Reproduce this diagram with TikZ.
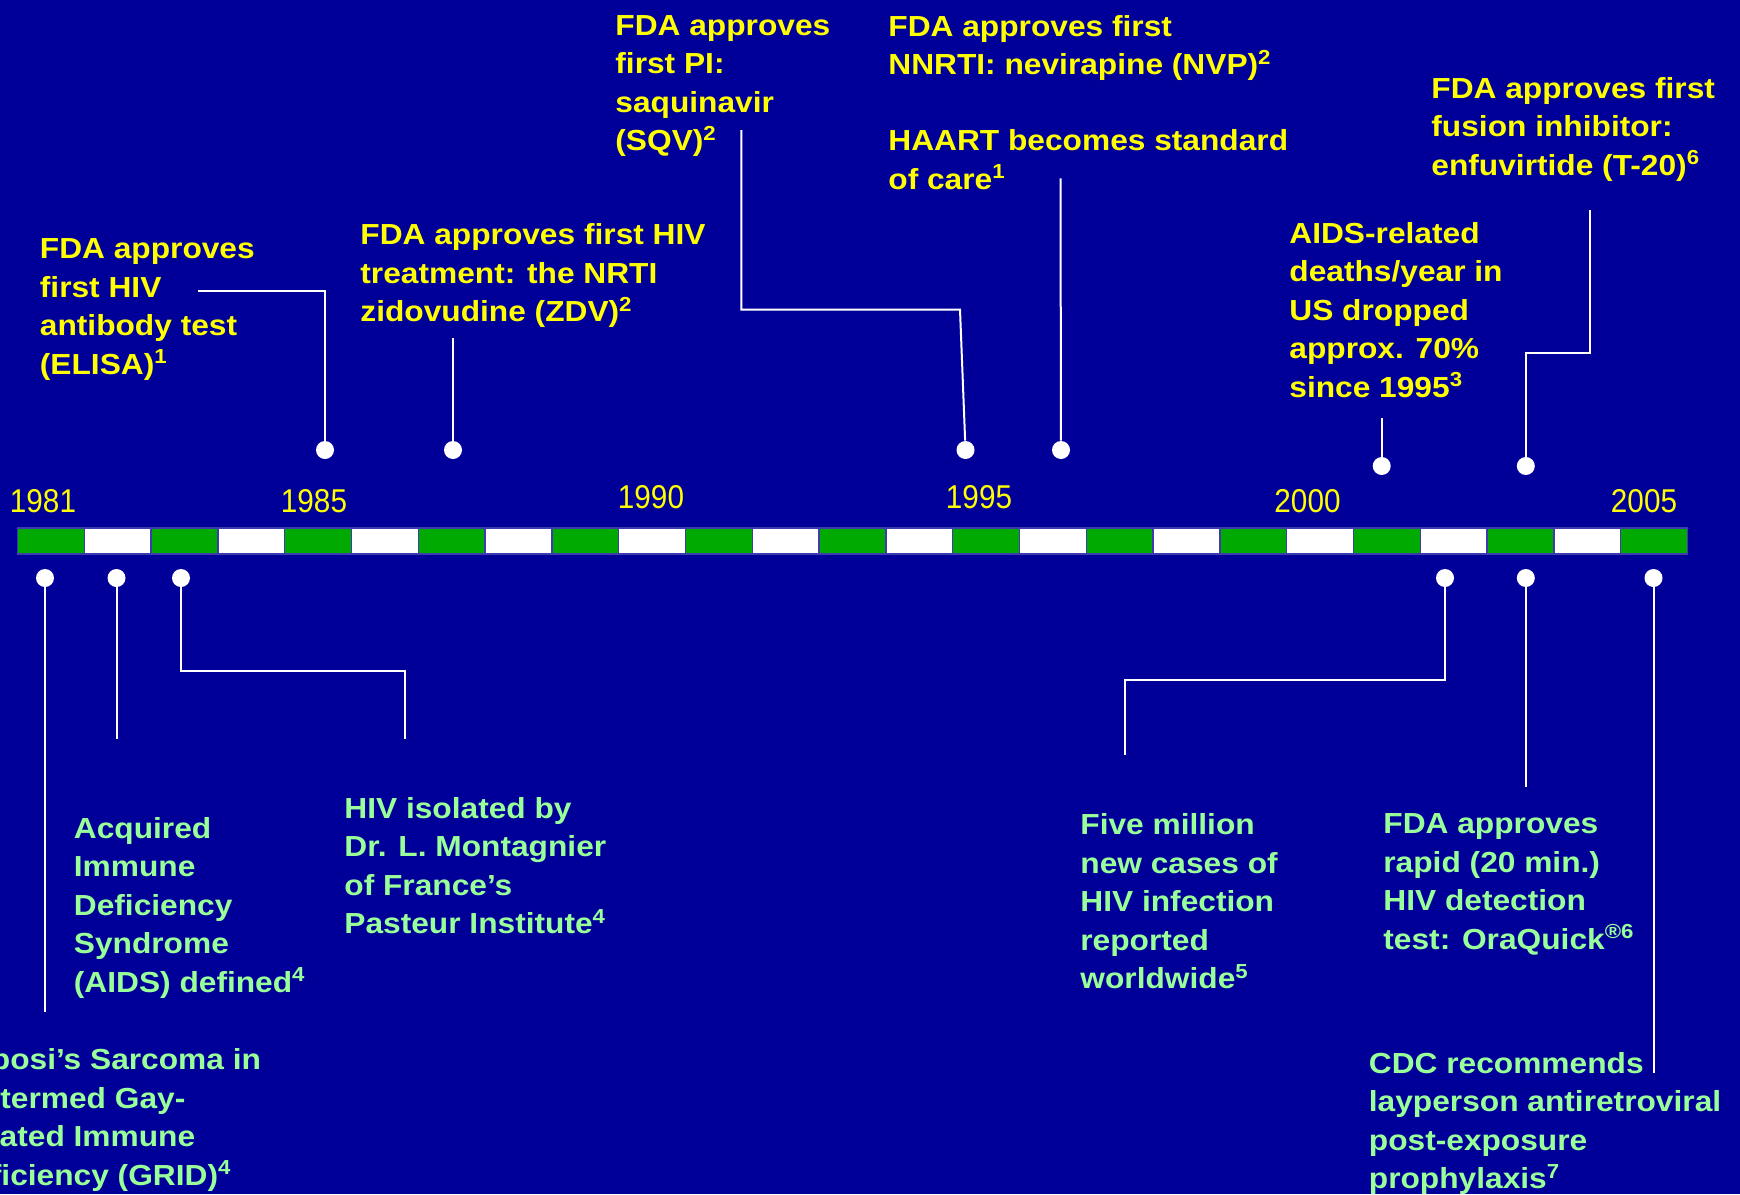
\documentclass[tikz,border=0pt]{standalone}
\usepackage{fontspec}
\setmainfont{Liberation Sans}[FakeStretch=1.093]
\newfontfamily\yearfont{Liberation Sans}[FakeStretch=0.9]
\usepackage{tikz}
\definecolor{slideblue}{RGB}{0,0,153}
\definecolor{slideyellow}{RGB}{255,255,0}
\definecolor{slidegreen}{RGB}{153,255,153}
\definecolor{bargreen}{RGB}{0,170,0}
\definecolor{barline}{RGB}{60,60,175}
\tikzset{
	timeline/.style={x=0.5pt, y=-0.5pt},
	event/.style={anchor=north west, inner sep=0pt, align=left,
		font=\fontsize{14.5pt}{19.25pt}\selectfont\bfseries},
	event up/.style={event, text=slideyellow},
	event down/.style={event, text=slidegreen},
	year/.style={anchor=base, inner sep=0pt, text=slideyellow,
		font=\yearfont\fontsize{16.5pt}{19pt}\selectfont},
	pin/.style={circle, fill=white, inner sep=0pt, minimum size=9pt},
	wire/.style={draw=white, line width=1pt},
	bar cell/.style={draw=barline, line width=0.75pt}
}

\begin{document}
\begin{tikzpicture}[timeline]
	\fill[slideblue] (0,0) rectangle (1740,1194);
	\useasboundingbox (0,0) rectangle (1740,1194);
	\clip (0,0) rectangle (1740,1194);
	% the bar, one cell per year
	\foreach \i in {0,2,...,24} \draw[bar cell, fill=bargreen] (17.5+66.8*\i,528) rectangle ++(66.8,26);
	\foreach \i in {1,3,...,23} \draw[bar cell, fill=white] (17.5+66.8*\i,528) rectangle ++(66.8,26);
	\foreach \yr/\px/\py in {1981/43/512, 1985/314/512, 1990/651/508, 1995/979/508, 2000/1307.5/512, 2005/1644/512}
		\node[year] (y\yr) at (\px,\py) {\yr};
	% pins
	\foreach \n/\px/\py in {85/325/450, 86/453/450, 95/965.5/450, 96/1061/450, 01t/1381.7/466, 03t/1525.8/466,
			81/45/578, 82/116.5/578, 83/181/578, 02/1445/578, 03/1525.8/578, 05/1653.5/578}
		\node[pin] (p\n) at (\px,\py) {};
	% events above
	\node[event up] (t85) at (39.5,238.3) {FDA approves\\first HIV\\antibody test\\(ELISA)\textsuperscript{1}};
	\node[event up] (t86) at (360,223.3) {FDA approves first HIV\\treatment: the NRTI\\zidovudine (ZDV)\textsuperscript{2}};
	\node[event up] (t95) at (615,15) {FDA approves\\first PI:\\saquinavir\\(SQV)\textsuperscript{2}};
	\node[event up] (t96a) at (888,15) {FDA approves first\\NNRTI: nevirapine (NVP)\textsuperscript{2}};
	\node[event up] (t96) at (888,129.3) {HAART becomes standard\\of care\textsuperscript{1}};
	\node[event up] (t01) at (1289,221.7) {AIDS-related\\deaths/year in\\US dropped\\approx. 70\%\\since 1995\textsuperscript{3}};
	\node[event up] (t03) at (1431,76.7) {FDA approves first\\fusion inhibitor:\\enfuvirtide (T-20)\textsuperscript{6}};
	% events below
	\node[event down] (b81) at (-50,1048.5) {Kaposi’s Sarcoma in\\\hspace*{25pt}termed Gay-\\Related Immune\\Deficiency (GRID)\textsuperscript{4}};
	\node[event down] (b82) at (73.5,816.7) {Acquired\\Immune\\Deficiency\\Syndrome\\(AIDS) defined\textsuperscript{4}};
	\node[event down] (b83) at (344,796.7) {HIV isolated by\\Dr. L. Montagnier\\of France’s\\Pasteur Institute\textsuperscript{4}};
	\node[event down] (b02) at (1080,813.3) {Five million\\new cases of\\HIV infection\\reported\\worldwide\textsuperscript{5}};
	\node[event down] (b03) at (1383,813.3) {FDA approves\\rapid (20 min.)\\HIV detection\\test: OraQuick\textsuperscript{®6}};
	\node[event down] (b05) at (1368.5,1051.7) {CDC recommends\\layperson antiretroviral\\post-exposure\\prophylaxis\textsuperscript{7}};
	% wire ends and bends
	\coordinate (e85) at (197.5,290.7);
	\coordinate (e86) at (453,337.7);
	\coordinate (k95) at (960,309.6);
	\coordinate (e95) at (741.4,130);
	\coordinate (e96) at (1060.5,178.3);
	\coordinate (e01t) at (1381.7,418.3);
	\coordinate (k03t) at (1590,353.3);
	\coordinate (e03t) at (1590,210);
	\coordinate (e81) at (45,1012);
	\coordinate (e82) at (116.5,739);
	\coordinate (k83) at (405,671.4);
	\coordinate (e83) at (405,739);
	\coordinate (k02) at (1125,680);
	\coordinate (e02) at (1125,754.6);
	\coordinate (e03) at (1525.8,786.8);
	\coordinate (e05) at (1653.5,1073.3);
	\draw[wire] (p85) |- (e85);
	\draw[wire] (p86) -- (e86);
	\draw[wire] (p95) -- (k95) -| (e95);
	\draw[wire] (p96) -- (e96);
	\draw[wire] (p01t) -- (e01t);
	\draw[wire] (p03t) |- (k03t) -- (e03t);
	\draw[wire] (p81) -- (e81);
	\draw[wire] (p82) -- (e82);
	\draw[wire] (p83) |- (k83) -- (e83);
	\draw[wire] (p02) |- (k02) -- (e02);
	\draw[wire] (p03) -- (e03);
	\draw[wire] (p05) -- (e05);
\end{tikzpicture}
\end{document}
